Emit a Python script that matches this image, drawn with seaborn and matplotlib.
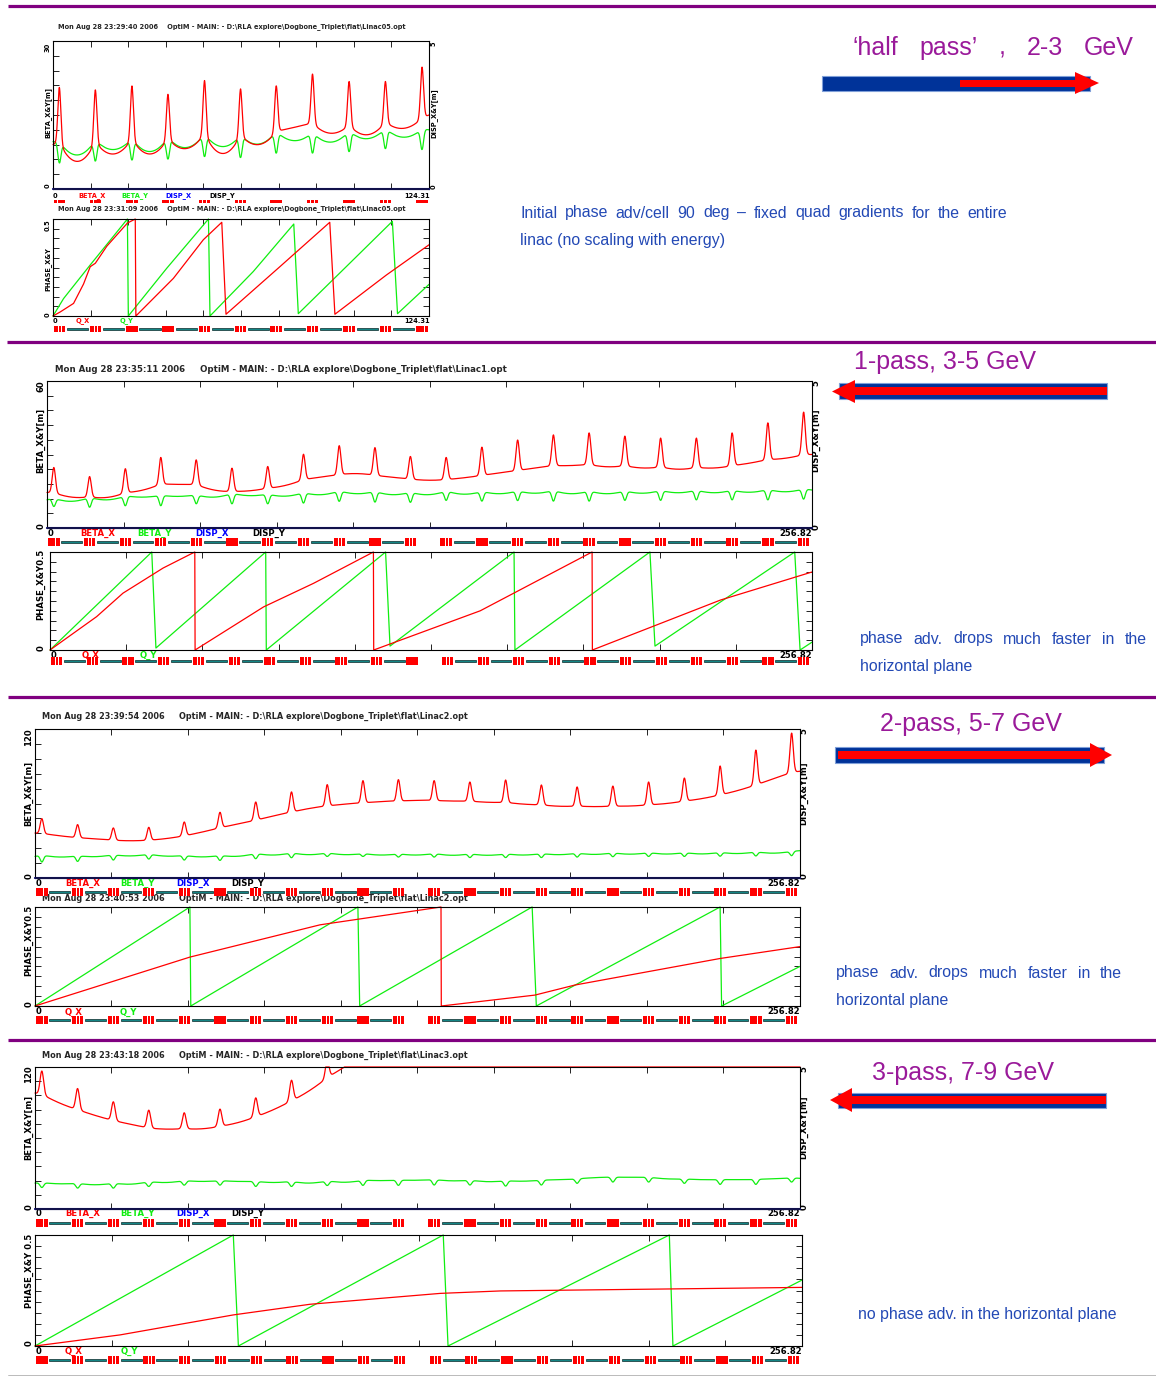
import numpy as np
import pandas as pd
import matplotlib
matplotlib.use("Agg")
import matplotlib.pyplot as plt
import matplotlib.patches as mpatches
import seaborn as sns

sns.set_theme(style="white")
plt.rcParams['font.family'] = ['Liberation Sans', 'DejaVu Sans']

W, H = 1156, 1376
fig = plt.figure(figsize=(W / 100, H / 100), dpi=100)

# ======================= DATA =======================
SMAX_05 = 124.31
SMAX = 256.82

# quad (peak) positions along the linac [m]
quad_s_05 = [2.1, 14.0, 26.1, 38.0, 50.1, 62.0, 73.8, 85.8, 97.9, 109.9, 122.0]
quad_s = [2.3, 14.3, 26.3, 38.2, 50.1, 62.1, 74.1, 86.1, 98.1, 110.1, 122.0,
          134.0, 146.0, 158.0, 170.0, 182.0, 194.0, 206.0, 218.0, 230.0, 242.0, 254.0]
# cavity (teal) centres
cav_s_05 = [8.05, 20.05, 32.05, 44.05, 56.05, 67.9, 79.8, 91.85, 103.9, 115.95]
cav_s = [8.3, 20.3, 32.25, 44.15, 56.1, 68.1, 80.1, 92.1, 104.1, 116.05,
         140.0, 152.0, 164.0, 176.0, 188.0, 200.0, 212.0, 224.0, 236.0, 248.0]

# ---- half pass (Linac05) beta functions, 0..30 m ----
bx_top_05 = [20.6, 20.1, 20.9, 19.2, 22.0, 20.3, 20.9, 23.3, 21.8, 21.8, 24.7]
bx_foot_05 = [9.5, 9.6, 10.2, 10.3, 11.3, 11.0, 11.7, 13.4, 13.0, 13.6, 14.4]
bx_valley_05 = [9.0, 5.6, 7.1, 7.1, 8.2, 7.2, 9.0, 12.5, 11.3, 11.0, 12.3, 15.0]
by_dip_05 = [5.3, 5.7, 5.9, 6.1, 6.6, 6.4, 7.3, 7.3, 7.6, 8.2, 8.0]
by_shoulder_05 = [9.7, 10.0, 10.3, 10.5, 11.2, 11.0, 11.7, 11.5, 11.8, 12.3, 12.2]
by_valley_05 = [9.6, 6.9, 8.0, 7.6, 8.4, 8.6, 9.1, 9.8, 9.5, 10.2, 10.5, 12.0]

# ---- half pass phase advance (vertices) ----
qx_s_05 = [0, 2.4, 6.8, 10.1, 12.3, 14.0, 17.8, 24.6, 27.2, 27.4, 39.8, 49.7, 55.8, 57.2, 75.0, 91.5, 93.2, 110.2, 124.31]
qx_v_05 = [0, 0.021, 0.065, 0.165, 0.254, 0.272, 0.360, 0.479, 0.5, 0.0, 0.194, 0.393, 0.483, 0.009, 0.254, 0.483, 0.009, 0.211, 0.367]
qy_s_05 = [0, 3.5, 12.3, 24.6, 24.9, 37.6, 51.4, 51.9, 66.2, 79.6, 81.1, 97.0, 112.2, 113.9, 124.31]
qy_v_05 = [0, 0.09, 0.263, 0.5, 0.0, 0.246, 0.5, 0.0, 0.229, 0.474, 0.012, 0.255, 0.488, 0.012, 0.163]

# ---- 1-pass (Linac1) beta, 0..60 m ----
bx_top_1 = [24.7, 21.0, 24.2, 28.8, 27.8, 24.4, 25.1, 30.1, 33.6, 32.8, 29.2,
            28.8, 33.0, 35.9, 38.0, 38.8, 37.5, 36.7, 36.7, 38.8, 42.9, 47.3]
bx_foot_1 = [14.5, 12.8, 14.5, 18.0, 17.8, 15.0, 16.3, 19.8, 21.8, 21.5, 20.0,
             19.8, 21.5, 23.5, 25.5, 26.0, 25.5, 25.0, 24.8, 25.5, 28.0, 30.0]
bx_valley_1 = [14.5, 12.6, 12.5, 15.5, 17.8, 15.5, 15.2, 17.4, 20.8, 22.2, 20.7,
               19.5, 20.5, 22.5, 24.5, 25.5, 25.0, 24.5, 24.0, 24.5, 26.5, 28.5, 30.0]
by_dip_1 = [8.8, 8.5, 9.1, 9.1, 9.9, 9.9, 9.9, 10.2, 10.9, 10.6, 10.5,
            11.3, 11.0, 11.2, 11.0, 11.0, 11.3, 11.3, 11.5, 11.5, 11.5, 11.8]
by_shoulder_1 = [12.2, 12.6, 13.2, 13.4, 13.6, 14.2, 13.9, 14.5, 15.2, 15.0, 14.7,
                 15.2, 15.0, 15.2, 15.4, 15.2, 15.2, 15.4, 15.5, 15.5, 15.8, 16.0]
by_valley_1 = [11.5, 10.9, 11.5, 12.6, 12.9, 12.6, 13.2, 13.0, 13.6, 14.0, 13.6,
               13.6, 13.8, 14.0, 14.2, 14.0, 14.0, 14.2, 14.4, 14.4, 14.6, 14.8, 15.5]
qx_s_1 = [0, 15.7, 24.6, 38.1, 48.8, 48.9, 72.0, 88.8, 109.0, 109.1, 145.0, 182.7, 182.8, 226.0, 256.82]
qx_v_1 = [0, 0.17, 0.29, 0.418, 0.5, 0.0, 0.22, 0.34, 0.5, 0.0, 0.2, 0.5, 0.0, 0.255, 0.398]
qy_s_1 = [0, 34.3, 35.7, 72.7, 72.9, 113.1, 114.6, 156.4, 156.7, 202.2, 203.9, 251.0, 252.8, 256.82]
qy_v_1 = [0, 0.5, 0.01, 0.5, 0.0, 0.5, 0.02, 0.5, 0.0, 0.5, 0.02, 0.5, 0.0, 0.04]

# ---- 2-pass (Linac2) beta, 0..120 m ----
bx_top_2 = [47.8, 43.0, 40.3, 40.8, 45.1, 52.9, 61.2, 69.3, 75.2, 78.4, 79.2,
            78.4, 77.3, 78.9, 74.9, 73.3, 74.0, 77.3, 80.5, 90.2, 103.0, 116.7]
bx_foot_2 = [36.0, 32.5, 30.5, 30.5, 34.0, 40.5, 46.5, 53.0, 58.0, 60.5, 62.0,
             62.5, 62.0, 61.0, 59.0, 58.0, 58.0, 59.0, 62.0, 67.0, 75.0, 85.0]
bx_valley_2 = [36.2, 34.0, 31.5, 30.0, 31.8, 37.0, 43.5, 50.0, 56.0, 59.5, 61.5,
               62.5, 62.0, 61.0, 59.5, 57.8, 57.5, 58.0, 60.0, 64.0, 70.5, 80.0, 86.0]
by_dip_2 = [12.9, 13.4, 14.5, 15.3, 14.5, 14.2, 15.6, 16.4, 17.4, 17.4, 16.9,
            16.9, 16.5, 16.5, 16.5, 16.9, 17.2, 17.4, 17.4, 17.6, 17.8, 18.0]
by_shoulder_2 = [18.5, 18.0, 18.8, 19.3, 18.3, 18.3, 19.9, 20.4, 20.4, 19.9, 19.6,
                 19.9, 19.6, 19.6, 19.8, 20.1, 20.4, 20.6, 20.6, 20.8, 21.2, 21.6]
by_valley_2 = [17.4, 16.9, 17.2, 17.8, 17.6, 17.0, 17.5, 18.5, 18.8, 18.8, 18.5,
               18.5, 18.3, 18.3, 18.5, 18.8, 19.0, 19.2, 19.3, 19.4, 19.7, 20.0, 22.0]
qx_s_2 = [0, 52.0, 95.7, 136.3, 136.4, 167.8, 181.3, 230.0, 256.82]
qx_v_2 = [0, 0.247, 0.41, 0.5, 0.0, 0.055, 0.106, 0.24, 0.30]
qy_s_2 = [0, 52.0, 52.3, 108.4, 109.0, 166.9, 168.3, 230.0, 230.5, 256.82]
qy_v_2 = [0, 0.5, 0.0, 0.5, 0.0, 0.5, 0.0, 0.5, 0.0, 0.2]

# ---- 3-pass (Linac3) beta, 0..120 m (BETA_X goes off scale) ----
bx_top_3 = [116.6, 101.8, 90.6, 83.5, 81.3, 84.4, 93.9, 108.8, 126.0]
bx_foot_3 = [97.0, 84.0, 74.8, 68.5, 68.0, 70.0, 78.0, 91.5, 111.0]
bx_valley_3 = [98.0, 89.5, 79.0, 71.5, 67.5, 67.8, 73.0, 84.0, 100.0, 360.0]
by_dip_3 = [18.2, 17.7, 17.7, 19.1, 20.2, 20.2, 19.1, 19.1, 19.9, 20.0, 20.0,
            20.3, 20.3, 19.4, 20.3, 21.7, 22.8, 22.8, 21.7, 20.8, 20.8, 22.8]
by_shoulder_3 = [22.4, 21.9, 22.0, 23.3, 24.1, 24.1, 23.5, 23.5, 24.0, 24.5, 24.5,
                 25.0, 24.5, 24.0, 24.5, 25.5, 27.0, 27.0, 25.5, 25.0, 25.2, 26.5]
by_valley_3 = [21.9, 21.3, 20.5, 21.0, 22.4, 23.3, 23.3, 22.4, 21.9, 22.6, 24.0,
               24.3, 23.8, 23.1, 23.5, 24.8, 26.5, 26.8, 25.5, 24.8, 24.8, 25.5, 25.9]
qx_s_3 = [0, 28.5, 66.4, 92.1, 135.7, 155.8, 256.82]
qx_v_3 = [0, 0.05, 0.14, 0.188, 0.237, 0.248, 0.264]
qy_s_3 = [0, 66.4, 68.1, 136.7, 138.3, 212.4, 213.6, 256.82]
qy_v_3 = [0, 0.5, 0.0, 0.5, 0.0, 0.5, 0.0, 0.297]

disp_s = [0, 1]          # fraction of length
disp_x = [0.0, 0.0]
disp_y = [0.0, 0.0]

RED = '#FF0000'
GREEN = '#10EE10'
BLUE = '#0000FF'
PURPLE = '#9A1A9A'
TXTBLUE = '#2349B5'
OPT_FONT = 'DejaVu Sans'

# ======================= HELPERS =======================
ax_bg = fig.add_axes([0, 0, 1, 1])
ax_bg.set_xlim(0, W)
ax_bg.set_ylim(H, 0)
ax_bg.axis('off')
ax_bg.patch.set_visible(False)


def add_ax(x0, y0, x1, y1, z=1):
    a = fig.add_axes([x0 / W, 1 - y1 / H, (x1 - x0) / W, (y1 - y0) / H])
    a.set_zorder(z)
    return a


def beta_series(s, quads, tops, feet, valleys, smax, sigma):
    q = np.asarray(quads, float)
    t = np.asarray(tops, float)
    f = np.asarray(feet, float)
    v = np.asarray(valleys, float)
    base = np.zeros_like(s)
    m = s <= q[0]
    base[m] = v[0] + (f[0] - v[0]) * (s[m] / q[0])
    for i in range(len(q) - 1):
        a, b = q[i], q[i + 1]
        m = (s > a) & (s <= b)
        c = 0.5 * (a + b)
        hh = 0.5 * (b - a)
        u = (s[m] - c) / hh
        base[m] = v[i + 1] + 0.5 * (f[i + 1] - f[i]) * u + (0.5 * (f[i] + f[i + 1]) - v[i + 1]) * u ** 2
    m = s > q[-1]
    base[m] = f[-1] + (v[-1] - f[-1]) * (s[m] - q[-1]) / (smax - q[-1])
    y = base.copy()
    for qi, ti, fi in zip(q, t, f):
        y += (ti - fi) * np.exp(-0.5 * ((s - qi) / sigma) ** 2)
    return y


def style_panel(ax, smax, ymax):
    ax.set_xlim(0, smax)
    ax.set_ylim(0, ymax)
    ax.set_xticks(np.linspace(0, smax, 11))
    ax.set_yticks(np.linspace(0, ymax, 11))
    ax.tick_params(direction='in', length=4, width=0.6, color='black',
                   top=True, bottom=True, left=True, right=True,
                   labelleft=False, labelbottom=False, labelright=False, labeltop=False)
    for sp in ax.spines.values():
        sp.set_color('black')
        sp.set_linewidth(0.8)
        sp.set_visible(True)
    ax.set_xlabel('')
    ax.set_ylabel('')
    ax.set_facecolor('white')


def beta_panel(box, smax, ymax, quads, bx, by, quads_x=None, sigma=0.5):
    ax = add_ax(*box)
    s = np.linspace(0, smax, 4000)
    qx = quads if quads_x is None else quads_x
    yx = np.clip(beta_series(s, qx, bx[0], bx[1], bx[2], smax, sigma), 0, ymax)
    yy = np.clip(beta_series(s, quads, by[0], by[1], by[2], smax, sigma), 0, ymax)
    df = pd.DataFrame({'s': np.concatenate([s, s]),
                       'beta': np.concatenate([yx, yy]),
                       'curve': ['BETA_X'] * len(s) + ['BETA_Y'] * len(s)})
    sns.lineplot(data=df, x='s', y='beta', hue='curve', palette={'BETA_X': RED, 'BETA_Y': GREEN},
                 hue_order=['BETA_Y', 'BETA_X'], estimator=None, sort=False, lw=0.9,
                 legend=False, ax=ax, clip_on=False)
    style_panel(ax, smax, ymax)
    ax2 = ax.twinx()
    ax2.set_ylim(0, 5)
    dsp = np.asarray(disp_s) * smax
    sns.lineplot(x=dsp, y=disp_x, color='#1515c0', lw=1.5, ax=ax2, clip_on=False, estimator=None)
    sns.lineplot(x=dsp, y=disp_y, color='#101028', lw=1.1, ax=ax2, clip_on=False, estimator=None)
    ax2.set_xlim(0, smax)
    ax2.set_yticks([])
    ax2.set_ylabel('')
    for sp in ax2.spines.values():
        sp.set_visible(False)
    return ax


def phase_panel(box, smax, qx, qy):
    ax = add_ax(*box)
    sns.lineplot(x=qy[0], y=qy[1], color=GREEN, lw=0.9, sort=False, estimator=None, ax=ax, clip_on=False)
    sns.lineplot(x=qx[0], y=qx[1], color=RED, lw=0.9, sort=False, estimator=None, ax=ax, clip_on=False)
    style_panel(ax, smax, 0.5)
    return ax


def lattice(yc, x0, x1, smax, quads, cavs, thin=False, hgt=10):
    ax = fig.add_axes([x0 / W, 1 - (yc + hgt / 2) / H, (x1 - x0) / W, hgt / H])
    ax.set_zorder(5)
    ax.set_xlim(0, smax)
    ax.set_ylim(0, 1)
    ax.axis('off')
    ax.patch.set_visible(False)
    if thin:
        for q in quads:
            for (o, w) in [(-1.9, 1.1), (-0.6, 1.1), (0.7, 1.2)]:
                ax.add_patch(mpatches.Rectangle((q + o, 0.36), w, 0.3, fc=RED, ec='none'))
        return
    for c in cavs:
        ax.add_patch(mpatches.Rectangle((c - 3.5, 0.36), 7.0, 0.28, fc='#138585', ec='#0a2a2a', lw=0.5))
    for q in quads:
        ax.add_patch(mpatches.Rectangle((q - 1.9, 0.12), 3.8, 0.76, fc=RED, ec='none'))
        for o in (-0.45, 0.55):
            ax.add_patch(mpatches.Rectangle((q + o, 0.12), 0.28, 0.76, fc='white', ec='none'))


def t(x, y, s, **kw):
    kw.setdefault('fontweight', 'bold')
    kw.setdefault('va', 'center')
    kw.setdefault('fontfamily', OPT_FONT)
    return ax_bg.text(x, y, s, **kw)


def bottom_labels(y, xs, smax_label, xr, fs, beta=True):
    names = [('0', 'black'), ('BETA_X', RED), ('BETA_Y', GREEN), ('DISP_X', BLUE), ('DISP_Y', 'black')] if beta \
        else [('0', 'black'), ('Q_X', RED), ('Q_Y', GREEN)]
    for (nm, col), x in zip(names, xs):
        t(x, y, nm, color=col, fontsize=fs, ha='left')
    t(xr, y, smax_label, color='black', fontsize=fs, ha='right')


def vlabel(x, y, s, fs, va='center'):
    t(x, y, s, rotation=90, fontsize=fs, ha='center', va=va, color='black')


# ======================= SEPARATORS =======================
for ys, xs in [(6, 8), (342, 7), (697, 8), (1040, 8)]:
    ax_bg.plot([xs, W], [ys, ys], color='#800080', lw=2.3, solid_capstyle='butt')
ax_bg.plot([8, W], [1374.5, 1374.5], color='#b0b0b0', lw=0.6)

# ======================= SECTION 1 =======================
F1 = 4.8
t(58, 27, r"Mon Aug 28 23:29:40 2006    OptiM - MAIN: - D:\RLA explore\Dogbone_Triplet\flat\Linac05.opt", fontsize=F1, ha='left')
beta_panel((53, 41, 429, 189), SMAX_05, 30, quad_s_05,
           (bx_top_05, bx_foot_05, bx_valley_05), (by_dip_05, by_shoulder_05, by_valley_05), sigma=0.5)
vlabel(48, 43, '30', F1, va='top'); vlabel(48, 186, '0', F1); vlabel(48, 112, 'BETA_X&Y[m]', F1)
vlabel(434, 42, '5', F1, va='top'); vlabel(434, 187, '0', F1); vlabel(434, 113, 'DISP_X&Y[m]', F1)
bottom_labels(196, [53, 78, 121, 165, 209], '124.31', 430, F1)
lattice(202, 53, 429, SMAX_05, quad_s_05, cav_s_05, thin=True)
t(58, 209, r"Mon Aug 28 23:31:09 2006    OptiM - MAIN: - D:\RLA explore\Dogbone_Triplet\flat\Linac05.opt", fontsize=F1, ha='left')
phase_panel((53, 219, 429, 316), SMAX_05, (qx_s_05, qx_v_05), (qy_s_05, qy_v_05))
vlabel(48, 219, '0.5', F1, va='top'); vlabel(48, 315, '0', F1); vlabel(48, 269, 'PHASE_X&Y', F1)
bottom_labels(321, [53, 76, 120], '124.31', 430, F1, beta=False)
lattice(329, 53, 429, SMAX_05, quad_s_05, cav_s_05, hgt=8)

# ======================= SECTION 2 =======================
F2 = 6.1
t(55, 369, r"Mon Aug 28 23:35:11 2006     OptiM - MAIN: - D:\RLA explore\Dogbone_Triplet\flat\Linac1.opt", fontsize=6.2, ha='left')
beta_panel((47, 381, 812, 528), SMAX, 60, quad_s,
           (bx_top_1, bx_foot_1, bx_valley_1), (by_dip_1, by_shoulder_1, by_valley_1), sigma=0.55)
vlabel(41, 380, '60', F2, va='top'); vlabel(41, 526, '0', F2); vlabel(41, 440, 'BETA_X&Y[m]', F2)
vlabel(816, 380, '5', F2, va='top'); vlabel(816, 527, '0', F2); vlabel(816, 440, 'DISP_X&Y[m]', F2)
bottom_labels(533, [48, 80, 137, 195, 252], '256.82', 812, F2)
lattice(542, 47, 812, SMAX, quad_s, cav_s)
phase_panel((50, 552, 812, 650), SMAX, (qx_s_1, qx_v_1), (qy_s_1, qy_v_1))
vlabel(41, 549, 'PHASE_X&Y0.5', F2, va='top'); vlabel(41, 648, '0', F2)
bottom_labels(655, [51, 82, 140], '256.82', 812, F2, beta=False)
lattice(661, 50, 812, SMAX, quad_s, cav_s)

# ======================= SECTION 3 =======================
F3 = 5.9
t(42, 716, r"Mon Aug 28 23:39:54 2006     OptiM - MAIN: - D:\RLA explore\Dogbone_Triplet\flat\Linac2.opt", fontsize=F3, ha='left')
beta_panel((35, 729, 800, 878), SMAX, 120, quad_s,
           (bx_top_2, bx_foot_2, bx_valley_2), (by_dip_2, by_shoulder_2, by_valley_2), sigma=0.55)
vlabel(29, 728, '120', F2, va='top'); vlabel(29, 876, '0', F2); vlabel(29, 793, 'BETA_X&Y[m]', F2)
vlabel(804, 728, '5', F2, va='top'); vlabel(804, 876, '0', F2); vlabel(804, 793, 'DISP_X&Y[m]', F2)
bottom_labels(883, [36, 65, 120, 176, 231], '256.82', 800, F2)
t(42, 898, r"Mon Aug 28 23:40:53 2006     OptiM - MAIN: - D:\RLA explore\Dogbone_Triplet\flat\Linac2.opt", fontsize=F3, ha='left')
lattice(892, 35, 800, SMAX, quad_s, cav_s)
phase_panel((35, 907, 800, 1006), SMAX, (qx_s_2, qx_v_2), (qy_s_2, qy_v_2))
vlabel(29, 905, 'PHASE_X&Y0.5', F2, va='top'); vlabel(29, 1004, '0', F2)
bottom_labels(1012, [36, 65, 120], '256.82', 800, F2, beta=False)
lattice(1020, 35, 800, SMAX, quad_s, cav_s)

# ======================= SECTION 4 =======================
t(42, 1055, r"Mon Aug 28 23:43:18 2006     OptiM - MAIN: - D:\RLA explore\Dogbone_Triplet\flat\Linac3.opt", fontsize=F3, ha='left')
beta_panel((35, 1067, 800, 1209), SMAX, 120, quad_s,
           (bx_top_3, bx_foot_3, bx_valley_3), (by_dip_3, by_shoulder_3, by_valley_3),
           quads_x=quad_s[:9], sigma=0.6)
vlabel(29, 1065, '120', F2, va='top'); vlabel(29, 1207, '0', F2); vlabel(29, 1127, 'BETA_X&Y[m]', F2)
vlabel(804, 1066, '5', F2, va='top'); vlabel(804, 1207, '0', F2); vlabel(804, 1127, 'DISP_X&Y[m]', F2)
bottom_labels(1213, [36, 65, 120, 176, 231], '256.82', 800, F2)
lattice(1223, 35, 800, SMAX, quad_s, cav_s)
phase_panel((35, 1235, 802, 1346), SMAX, (qx_s_3, qx_v_3), (qy_s_3, qy_v_3))
vlabel(29, 1234, 'PHASE_X&Y 0.5', F2, va='top'); vlabel(29, 1343, '0', F2)
bottom_labels(1351, [36, 65, 121], '256.82', 802, F2, beta=False)
lattice(1360, 35, 802, SMAX, quad_s, cav_s)

# ======================= RIGHT-HAND ANNOTATIONS =======================
renderer = fig.canvas.get_renderer()
FT = 11.4


def justify(words, x0, x1, y, **kw):
    kw.setdefault('va', 'center')
    kw.setdefault('ha', 'left')
    txts = [ax_bg.text(0, y, w, **kw) for w in words]
    widths = [tt.get_window_extent(renderer).width for tt in txts]
    gap = (x1 - x0 - sum(widths)) / max(len(words) - 1, 1)
    x = x0
    for tt, w in zip(txts, widths):
        tt.set_x(x)
        x += w + gap


def arrow(bar, shaft, head_base, tip, hy):
    bx0, bx1, by0, by1 = bar
    ax_bg.add_patch(mpatches.Rectangle((bx0, by0), bx1 - bx0, by1 - by0, fc='#003399', ec='#7f9fd8', lw=0.8, zorder=3))
    sx0, sx1, sy0, sy1 = shaft
    ax_bg.add_patch(mpatches.Rectangle((sx0, sy0), sx1 - sx0, sy1 - sy0, fc=RED, ec='none', zorder=4))
    ax_bg.add_patch(mpatches.Polygon([(head_base, hy[0]), (tip, 0.5 * (hy[0] + hy[1])), (head_base, hy[1])],
                                     closed=True, fc=RED, ec='none', zorder=4))


# section 1
justify(['\u2018half', 'pass\u2019', ',', '2-3', 'GeV'], 852, 1134, 48, fontsize=18, color=PURPLE)
arrow((822, 1090, 76, 91), (960, 1076, 80, 87), 1075, 1099, (72, 94))
justify('Initial  phase adv/cell 90 deg \u2013 fixed quad gradients for the entire'.split(), 520, 1007, 213,
        fontsize=FT, color=TXTBLUE)
ax_bg.text(520, 240, 'linac (no scaling with energy)', fontsize=FT, color=TXTBLUE, va='center', ha='left')

# section 2
ax_bg.text(945, 362, '1-pass, 3-5 GeV', fontsize=18, color=PURPLE, ha='center', va='center')
arrow((839, 1107, 383, 399), (854, 1107, 387, 395), 855, 832, (380, 403))
justify(['phase', 'adv.', 'drops', 'much', 'faster', 'in', 'the'], 860, 1147, 639, fontsize=FT, color=TXTBLUE)
ax_bg.text(860, 667, 'horizontal plane', fontsize=FT, color=TXTBLUE, va='center', ha='left')

# section 3
ax_bg.text(971, 724, '2-pass, 5-7 GeV', fontsize=18, color=PURPLE, ha='center', va='center')
arrow((835, 1104, 747, 763), (838, 1091, 751, 759), 1090, 1112, (743, 767))
justify(['phase', 'adv.', 'drops', 'much', 'faster', 'in', 'the'], 836, 1122, 973, fontsize=FT, color=TXTBLUE)
ax_bg.text(836, 1001, 'horizontal plane', fontsize=FT, color=TXTBLUE, va='center', ha='left')

# section 4
ax_bg.text(963, 1073, '3-pass, 7-9 GeV', fontsize=18, color=PURPLE, ha='center', va='center')
arrow((838, 1106, 1093, 1108), (851, 1106, 1096, 1104), 852, 830, (1088, 1112))
ax_bg.text(858, 1314, 'no phase adv. in the horizontal plane', fontsize=FT, color=TXTBLUE, va='center', ha='left')

fig.savefig('out.png', dpi=100, facecolor='white')
